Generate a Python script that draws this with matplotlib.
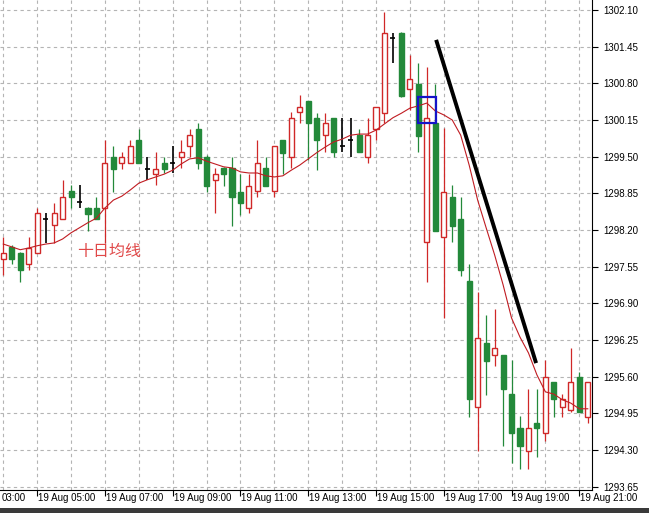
import numpy as np
import matplotlib.pyplot as plt
from matplotlib.patches import Rectangle
from matplotlib.transforms import blended_transform_factory

# 15 minute candles, 19 Aug
opens = [1297.69, 1297.90, 1297.79, 1297.60, 1297.79, 1298.40, 1298.29, 1298.40, 1298.89, 1298.70,
         1298.59, 1298.59, 1298.59, 1299.49, 1299.39, 1299.39, 1299.80, 1299.28, 1299.19, 1299.39,
         1299.39, 1299.49, 1299.69, 1299.99, 1299.49, 1299.09, 1299.30, 1299.30, 1298.87, 1298.59,
         1298.89, 1299.30, 1298.89, 1299.80, 1299.49, 1300.29, 1300.49, 1300.19, 1299.88, 1300.19,
         1299.69, 1299.80, 1299.88, 1299.49, 1299.99, 1300.27, 1301.60, 1301.69, 1300.70, 1300.79,
         1297.99, 1300.10, 1298.08, 1298.79, 1298.40, 1297.30, 1295.06, 1296.20, 1295.98, 1295.98,
         1295.29, 1294.69, 1294.28, 1294.78, 1294.60, 1295.51, 1295.06, 1295.01, 1295.59, 1294.89]
highs = [1298.08, 1297.93, 1297.81, 1298.08, 1298.59, 1298.50, 1298.68, 1299.09, 1299.00, 1299.00,
         1298.61, 1298.79, 1299.80, 1299.69, 1299.58, 1299.80, 1299.99, 1299.49, 1299.58, 1299.49,
         1299.69, 1299.80, 1299.99, 1300.10, 1299.53, 1299.30, 1299.32, 1299.49, 1299.19, 1299.19,
         1299.80, 1299.49, 1299.69, 1299.80, 1300.29, 1300.59, 1300.49, 1300.27, 1300.27, 1300.19,
         1300.19, 1300.19, 1299.99, 1300.19, 1300.38, 1302.06, 1301.69, 1301.71, 1301.30, 1301.16,
         1301.09, 1300.79, 1300.01, 1299.00, 1298.79, 1297.60, 1297.10, 1296.69, 1296.80, 1295.98,
         1295.90, 1294.90, 1295.38, 1295.38, 1295.90, 1295.51, 1295.29, 1296.11, 1295.68, 1295.51]
lows = [1297.40, 1297.60, 1297.28, 1297.49, 1297.79, 1297.97, 1297.97, 1298.40, 1298.59, 1298.59,
        1298.18, 1298.40, 1297.97, 1298.87, 1299.28, 1299.39, 1299.39, 1299.09, 1299.00, 1299.21,
        1299.21, 1299.30, 1299.49, 1299.28, 1298.87, 1298.50, 1298.98, 1298.27, 1298.47, 1298.50,
        1298.79, 1298.98, 1298.79, 1299.19, 1299.30, 1300.10, 1299.44, 1299.26, 1299.58, 1299.49,
        1299.58, 1299.49, 1299.58, 1299.39, 1299.80, 1300.10, 1301.16, 1300.56, 1300.33, 1299.58,
        1297.28, 1298.18, 1296.64, 1297.99, 1297.38, 1294.89, 1294.28, 1295.28, 1295.79, 1294.37,
        1294.07, 1293.96, 1293.96, 1294.18, 1294.46, 1294.89, 1294.89, 1294.97, 1294.97, 1294.78]
closes = [1297.79, 1297.69, 1297.49, 1297.88, 1298.50, 1298.40, 1298.50, 1298.79, 1298.79, 1298.70,
          1298.48, 1298.40, 1299.39, 1299.28, 1299.49, 1299.69, 1299.39, 1299.28, 1299.28, 1299.28,
          1299.39, 1299.58, 1299.88, 1299.39, 1298.98, 1299.19, 1299.19, 1298.79, 1298.68, 1298.98,
          1299.39, 1298.98, 1299.69, 1299.57, 1300.19, 1300.38, 1300.10, 1299.80, 1300.10, 1299.58,
          1299.69, 1299.80, 1299.58, 1299.88, 1300.38, 1301.69, 1301.60, 1300.58, 1300.88, 1299.87,
          1300.19, 1298.18, 1298.87, 1298.27, 1297.49, 1295.20, 1296.29, 1295.88, 1296.11, 1295.38,
          1294.60, 1294.37, 1294.69, 1294.69, 1295.59, 1295.20, 1295.20, 1295.51, 1294.97, 1295.51]
ma10 = [1297.95, 1297.90, 1297.85, 1297.88, 1297.92, 1297.95, 1297.97, 1298.04, 1298.15, 1298.24,
        1298.33, 1298.41, 1298.59, 1298.73, 1298.80, 1298.91, 1299.03, 1299.09, 1299.14, 1299.19,
        1299.26, 1299.37, 1299.46, 1299.48, 1299.42, 1299.37, 1299.32, 1299.30, 1299.23, 1299.21,
        1299.21, 1299.16, 1299.14, 1299.16, 1299.26, 1299.35, 1299.46, 1299.57, 1299.67, 1299.76,
        1299.81, 1299.88, 1299.90, 1299.90, 1299.97, 1300.08, 1300.19, 1300.27, 1300.36, 1300.40,
        1300.45, 1300.31, 1300.24, 1300.15, 1299.88, 1299.35, 1298.73, 1298.24, 1297.76, 1297.23,
        1296.64, 1296.30, 1296.02, 1295.63, 1295.33, 1295.29, 1295.19, 1295.13, 1295.03, 1295.03]

# first label is cut by the window in the original, only its time shows
time_labels = ['03:00', '19 Aug 05:00', '19 Aug 07:00', '19 Aug 09:00', '19 Aug 11:00',
               '19 Aug 13:00', '19 Aug 15:00', '19 Aug 17:00', '19 Aug 19:00', '19 Aug 21:00']
label_candles = [-0.3, 4, 12, 20, 28, 36, 44, 52, 60, 68]
price_ticks = [1302.10, 1301.45, 1300.80, 1300.15, 1299.50, 1298.85, 1298.20,
               1297.55, 1296.90, 1296.25, 1295.60, 1294.95, 1294.30, 1293.65]

# hand drawn marks
trend_x = [51.1, 62.9]
trend_y = [1301.57, 1295.84]
box_candle = 50
box_lo, box_hi = 1300.09, 1300.56

green = '#23893a'
red = '#d02828'

plt.rcParams['font.family'] = ['Liberation Sans', 'DejaVu Sans']

fig = plt.figure(figsize=(6.49, 5.13), dpi=100)
ax = fig.add_axes([0, 23 / 513, 592 / 649, 490 / 513])

x = np.arange(len(opens))
o = np.array(opens)
h = np.array(highs)
l = np.array(lows)
c = np.array(closes)
up = c > o
down = c < o
doji = c == o

# grid
for k in range(0, 70, 4):
    ax.axvline(k, color='#b4b4b4', lw=0.8, ls=(0, (3, 3)), zorder=0)
for p in price_ticks:
    ax.axhline(p, color='#b4b4b4', lw=0.8, ls=(0, (3, 3)), zorder=0)

# wicks
ax.vlines(x[up], l[up], h[up], color=red, lw=0.9, zorder=2)
ax.vlines(x[down], l[down], h[down], color=green, lw=0.9, zorder=2)
ax.vlines(x[doji], l[doji], h[doji], color='black', lw=1.2, zorder=2)

w = 0.6
ax.bar(x[up], c[up] - o[up], bottom=o[up], width=w, facecolor='white',
       edgecolor=red, lw=1, zorder=3)
ax.bar(x[down], o[down] - c[down], bottom=c[down], width=w, facecolor=green,
       edgecolor=green, lw=1, zorder=3)
ax.hlines(o[doji], x[doji] - w / 2, x[doji] + w / 2, color='black', lw=1.2, zorder=3)

ax.plot(x, ma10, color='#c01c22', lw=0.8, zorder=4)

ax.plot(trend_x, trend_y, color='black', lw=2.8, solid_capstyle='butt', zorder=5)
ax.add_patch(Rectangle((box_candle - 1.05, box_lo), 2.1, box_hi - box_lo, fill=False,
                       edgecolor='#1414c8', lw=1.6, zorder=6))

ax.text(8.7, 1297.81, '十日均线', color='#e04848', fontsize=11.5, va='center', ha='left',
        family=['Noto Sans CJK SC', 'DejaVu Sans'], zorder=6)

ax.set_xlim(-0.39, 69.5)
ax.set_ylim(1293.59, 1302.277)

# axes styling like the terminal
for s in ['left', 'top']:
    ax.spines[s].set_visible(False)
ax.spines['right'].set_color('black')
ax.spines['bottom'].set_color('black')
ax.yaxis.tick_right()
ax.set_yticks(price_ticks)
ax.set_yticklabels(['%.2f' % p for p in price_ticks])
ax.tick_params(axis='y', length=4, width=0.8, pad=4, labelsize=7, colors='black')

ax.set_xticks(label_candles[1:])
ax.set_xticklabels([''] * (len(label_candles) - 1))
ax.tick_params(axis='x', length=4, width=0.8, labelsize=7)
trans = blended_transform_factory(ax.transData, ax.transAxes)
for lc, lab in zip(label_candles, time_labels):
    ax.text(lc + 0.1, -0.017, lab, transform=trans, ha='left', va='center', fontsize=7,
            clip_on=False)

fig.patches.append(Rectangle((0, 0), 1, 5 / 513, transform=fig.transFigure,
                             facecolor='#3a3a3a', edgecolor='none'))

fig.savefig('out.png', dpi=100)
